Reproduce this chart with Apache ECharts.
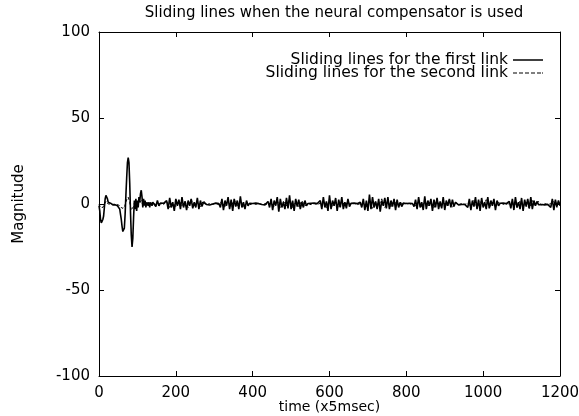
<!DOCTYPE html>
<html>
<head>
<meta charset="utf-8">
<script src="https://cdn.jsdelivr.net/npm/echarts@6/dist/echarts.min.js"></script>
<style>html,body{margin:0;padding:0;background:#fff}#c{width:579px;height:416px}</style>
</head>
<body>
<div id="c"></div>
<script>
// ---- data ----
var xTicks = [0, 200, 400, 600, 800, 1000, 1200];
var yTicks = [-100, -50, 0, 50, 100];
var seriesNames = ['Sliding lines for the first link', 'Sliding lines for the second link'];

// transient part (time, value) sampled every 2 units, 0..140
var transientTime = [0,2,4,6,8,10,12,14,16,18,20,22,24,26,28,30,32,34,36,38,40,42,44,46,48,50,52,54,56,58,60,62,64,66,68,70,72,74,76,78,80,82,84,86,88,90,92,94,96,98,100,102,104,106,108,110,112,114,116,118,120,122,124,126,128,130,132,134,136,138,140];
var link1Transient = [-1,-4,-9,-11,-10,-9,-7,-2,3,5,6,3,1,2,1,0.5,0,0.5,-0.5,0,0.3,-0.5,-1,-0.5,-1,-1.5,-2,-3,-6,-9,-13,-16,-17,-14,-6,5,15,24,27,24,12,-5,-18,-25,-20,-8,2,-3,3,-4,2,-2,4,1,6,8,4,-2,3,-1,2,-2,1,2,-1,1,-2,1,2,-1,1];
var link2Transient = [0,-1,-2,-3,-2.5,-2,-1,0,1,1.5,1,0.5,0,0.3,0,0,0.2,0,-0.2,0,0.1,-0.1,0,-0.2,-0.3,-0.5,-0.8,-1,-1.5,-2,-2.5,-3,-3,-2,-0.5,1,2.5,3.5,4,3,1,-1.5,-3.5,-4.5,-3.5,-1.5,0.5,-0.5,1,-1,0.5,-0.5,1,0.5,1.5,2,1,-0.5,0.8,-0.3,0.5,-0.8,0.3,0.8,-0.5,0.3,-0.8,0.4,0.8,-0.4,0.3];

// steady part: link 1 sampled every 4 units from 144, link 2 every 8 units from 144
var link1Start = 144, link1Step = 4;
var link1Steady = [
 1,-1.5,2,-1,
 0.5,-0.3,0.4,-0.5,
 2,-3,3.5,-2,1,-4,3,-1,2.5,-3,4,-2,1.5,-3.5,2,-1,3,-2.5,1,-2,3.5,-3,2,-1.5,1,
 0.5,-0.3,0.2,-0.6,0.4,0,-0.4,0.5,-0.2,0.3,
 -2,3,-3.5,2,-1,4,-3,2.5,-4,3,-1.5,2,-3,4.5,-2,1,-3,2,-1,
 0.4,-0.5,0.3,-0.2,0.5,-0.4,0.2,0,-0.3,0.4,-0.5,0.3,
 1.5,-2,3,-3.5,2,-1,4,-4.5,3,-2,1,-3,3.5,-2.5,5,-3,2,-4,3,-1.5,2.5,-3,1,-2,2,-1,
 0.3,-0.5,0.4,-0.2,0.5,-0.4,0.2,-0.3,
 2,-3,4,-2,1.5,-4,5,-3,2,-1,3.5,-4,2.5,-2,4,-3,1,-2.5,3,-1.5,
 0.4,-0.3,0.5,-0.4,0.2,-0.5,
 1,-2,3,-3.5,2,-4,5.5,-3,4,-2,1.5,-3,3,-4.5,2,-1,3.5,-2.5,4,-3,2,-1.5,3,-3.5,2.5,-2,1,-1.5,
 0.5,-0.4,0.3,-0.2,0.4,-0.5,0.3,
 -1.5,2.5,-3,4,-2,1,-3.5,4.5,-3,2,-1,3,-4,2.5,-2,3.5,-3,1.5,-2.5,4,-3.5,2,-1,3,-2,2.5,-1.5,1,
 0.3,-0.5,0.4,-0.3,0.5,-0.2,0.4,
 -2,3,-3.5,2,-1.5,4,-3,2.5,-4,3.5,-2,1,-3,4,-2.5,2,-1,3,-3.5,2,-1,
 0.4,-0.3,0.5,-0.5,0.2,-0.4,
 1.5,-2.5,3,-3.5,4,-2,1,-3,3.5,-4,2.5,-1.5,3,-2.5,4,-3,2,-1,1.5,
 -0.4,0.5,-0.3,0.2,-0.5,0.4,-0.2,0.3,
 -2,3,-3.5,2.5,-1.5,2,-1
];
var link2Start = 144, link2Step = 8;
var link2Steady = [
 0.5,-0.5,0.3,-0.4,1.5,-2,1,-1.5,2,-1,
 1.5,-2,2.5,-1,1,-1.5,2,-0.5,0.3,-0.2,
 0.3,-0.4,1.5,-2,2,-1.5,2.5,-1,1.5,-2,
 1,-0.5,0.3,-0.2,0.4,-0.3,0.2,-0.4,1,-1.5,
 2,-2.5,1.5,-1,2.5,-2,1,-1.5,2,-1,
 0.3,-0.4,0.2,-0.3,0.4,1.5,-2,2.5,-1.5,1,
 -2,2,-1,1.5,-0.5,0.3,-0.4,0.2,0.5,-1.5,
 2,-2.5,1.5,-1,3,-2,1,-1.5,2,-1,
 1,-0.3,0.4,-0.2,0.3,-1,1.5,-2,2.5,-1.5,
 1,-2,2,-1.5,1,-1,2.5,-2,1,-0.4,
 0.3,-0.3,0.4,-1.5,2,-2,1.5,-1,2.5,-2,
 1,-1.5,1,0.3,-0.4,0.2,-0.3,1.5,-2,2,
 -1.5,1,-2.5,2,-1,1.5,-0.5,0.3,-0.4,0.2,
 1.5,-2,1
];

function build(trTime, tr, start, step, steady) {
  var out = [];
  for (var i = 0; i < trTime.length; i++) out.push([trTime[i], tr[i]]);
  for (var j = 0; j < steady.length; j++) {
    var t = start + j * step;
    if (t <= 1200) out.push([t, steady[j]]);
  }
  return out;
}
var link1Data = build(transientTime, link1Transient, link1Start, link1Step, link1Steady);
var link2Data = build(transientTime, link2Transient, link2Start, link2Step, link2Steady);

var FONT = 'DejaVu Sans';
function ticks() { return {show: true, inside: true, length: 5, lineStyle: {color: '#000', width: 1}}; }
function line() { return {show: true, onZero: false, lineStyle: {color: '#000', width: 1}}; }
function plain(v) { return String(v); }
var dashIcon = 'path://M0,0h4v1h-4zM6,0h4v1h-4zM12,0h4v1h-4zM18,0h4v1h-4zM24,0h4v1h-4zM29,0h1v1h-1z';

var chart = echarts.init(document.getElementById('c'), null, {renderer: 'canvas'});
chart.setOption({
  animation: false,
  backgroundColor: '#fff',
  textStyle: {fontFamily: FONT},
  title: {
    text: 'Sliding lines when the neural compensator is used',
    left: 329, top: 1, textAlign: 'center',
    textStyle: {fontFamily: FONT, fontSize: 15, fontWeight: 'normal', color: '#000'}
  },
  legend: {
    data: [
      {name: seriesNames[0], icon: 'rect'},
      {name: seriesNames[1], icon: dashIcon}
    ],
    orient: 'vertical',
    right: 31, top: 47,
    align: 'right',
    itemWidth: 30, itemHeight: 1.5, itemGap: -3,
    itemStyle: {color: '#000'},
    textStyle: {fontFamily: FONT, fontSize: 15.5, lineHeight: 14, color: '#000', padding: [0, 0, 0, 0]}
  },
  grid: {left: 99, right: 19, top: 32, bottom: 40, show: false, containLabel: false, outerBoundsMode: 'none'},
  xAxis: [{
    type: 'value', min: xTicks[0], max: xTicks[xTicks.length - 1], interval: 200,
    name: 'time (x5msec)', nameLocation: 'middle', nameGap: 24, nameMoveOverlap: false,
    nameTextStyle: {fontFamily: FONT, fontSize: 14, color: '#000'},
    axisLine: line(), axisTick: ticks(), splitLine: {show: false},
    axisLabel: {fontFamily: FONT, fontSize: 15, color: '#000', margin: 10, formatter: plain}
  }, {
    type: 'value', position: 'top', min: xTicks[0], max: xTicks[xTicks.length - 1], interval: 200,
    axisLine: line(), axisTick: ticks(), splitLine: {show: false}, axisLabel: {show: false}
  }],
  yAxis: [{
    type: 'value', min: yTicks[0], max: yTicks[yTicks.length - 1], interval: 50,
    name: 'Magnitude', nameLocation: 'middle', nameGap: 72, nameMoveOverlap: false,
    nameTextStyle: {fontFamily: FONT, fontSize: 15, color: '#000'},
    axisLine: line(), axisTick: ticks(), splitLine: {show: false},
    axisLabel: {fontFamily: FONT, fontSize: 15, color: '#000', margin: 9, formatter: plain}
  }, {
    type: 'value', position: 'right', min: yTicks[0], max: yTicks[yTicks.length - 1], interval: 50,
    axisLine: line(), axisTick: ticks(), splitLine: {show: false}, axisLabel: {show: false}
  }],
  series: [{
    name: seriesNames[0], type: 'line', data: link1Data, showSymbol: false, symbol: 'none',
    lineStyle: {color: '#000', width: 1.6}, itemStyle: {color: '#000'}, z: 3
  }, {
    name: seriesNames[1], type: 'line', data: link2Data, showSymbol: false, symbol: 'none',
    lineStyle: {color: '#000', width: 1, type: [3, 2]}, itemStyle: {color: '#000'}, z: 2
  }]
});
</script>
</body>
</html>
